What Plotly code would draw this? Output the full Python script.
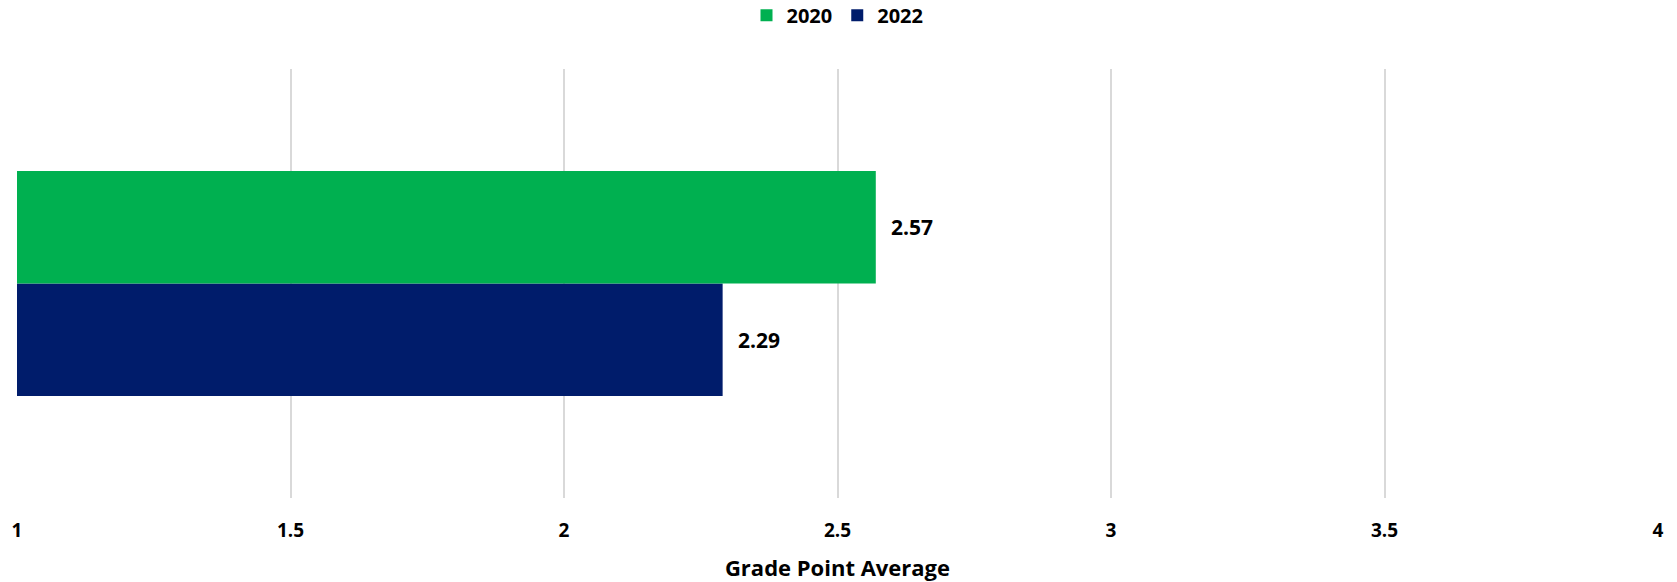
import plotly.graph_objects as go

# Grade point average by year
category = ["GPA"]
years = ["2020", "2022"]
gpa_2020 = [2.57]
gpa_2022 = [2.29]
x_ticks = [1, 1.5, 2, 2.5, 3, 3.5, 4]
x_tick_labels = ["1", "1.5", "2", "2.5", "3", "3.5", "4"]

colors = {"2020": "#00B050", "2022": "#001C6B"}
font_family = "'Open Sans', sans-serif"

fig = go.Figure()
# horizontal grouped bars stack upward, so the later year goes first
for year, vals in [("2022", gpa_2022), ("2020", gpa_2020)]:
    fig.add_trace(go.Bar(
        y=category, x=vals, orientation="h", name=year,
        marker=dict(color=colors[year], line=dict(width=0)),
        legendrank=1 if year == "2020" else 2,
        offsetgroup=year,
    ))

# value labels to the right of each bar
bar_offsets = {"2020": 0.131, "2022": -0.131}
for year, vals in [("2020", gpa_2020), ("2022", gpa_2022)]:
    for c, v in zip(category, vals):
        fig.add_annotation(
            x=v, y=bar_offsets[year], xref="x", yref="y",
            text=f"<b>{v:.2f}</b>", showarrow=False,
            xanchor="left", yanchor="middle", xshift=13,
            font=dict(size=21, color="#000000", family=font_family),
        )

fig.update_layout(
    width=1677, height=582,
    margin=dict(l=17, r=19, t=69, b=84),
    plot_bgcolor="#FFFFFF", paper_bgcolor="#FFFFFF",
    barmode="group", bargap=0.475, bargroupgap=0,
    font=dict(family=font_family, color="#000000"),
    showlegend=True,
    legend=dict(
        orientation="h", x=0.5, xanchor="center",
        yref="container", y=0.974, yanchor="middle",
        font=dict(size=20, family=font_family, color="#000000", weight="bold"),
        itemwidth=30, tracegroupgap=0,
    ),
    xaxis=dict(
        range=[1, 4], tickvals=x_ticks, ticktext=[f"<b>{t}</b>" for t in x_tick_labels],
        showgrid=True, gridcolor="#D9D9D9", gridwidth=2,
        zeroline=False, showline=False, ticks="",
        ticklabelstandoff=19, automargin=False,
        tickfont=dict(size=19, family=font_family, color="#000000"),
        title=dict(text="<b>Grade Point Average</b>", standoff=18,
                   font=dict(size=22, family=font_family, color="#000000")),
    ),
    yaxis=dict(
        range=[-0.5, 0.5], showticklabels=False, showgrid=False,
        zeroline=False, showline=False, ticks="", type="category",
        automargin=False,
    ),
)

fig.write_html("out.html")
